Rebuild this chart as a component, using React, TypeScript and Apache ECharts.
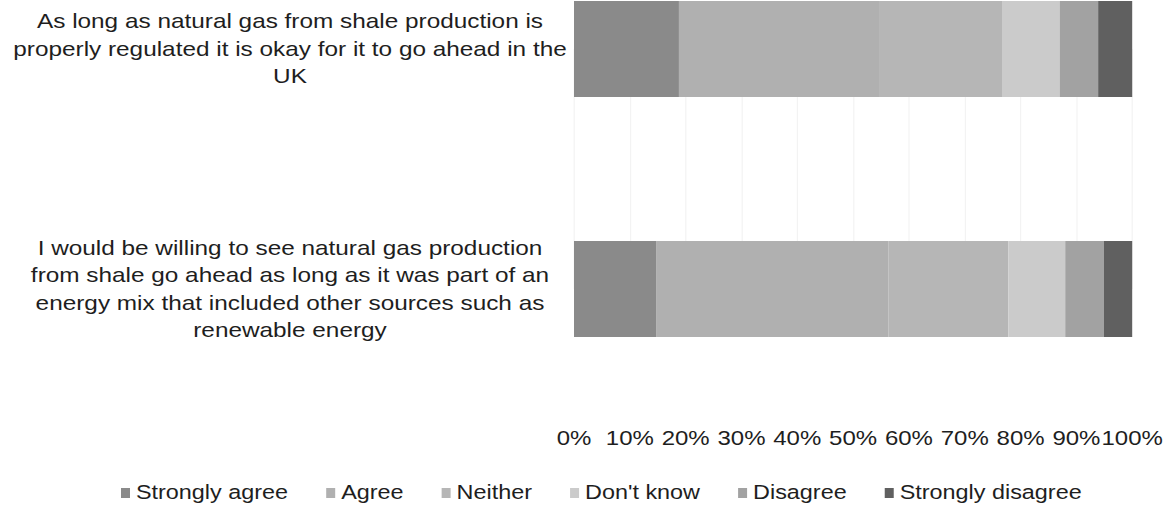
import React, { useEffect, useRef } from "react";
import * as echarts from "echarts";

const categories = [
  "As long as natural gas from shale production is\nproperly regulated it is okay for it to go ahead in the\nUK",
  "I would be willing to see natural gas production\nfrom shale go ahead as long as it was part of an\nenergy mix that included other sources such as\nrenewable energy",
];
const seriesNames = ["Strongly agree", "Agree", "Neither", "Don't know", "Disagree", "Strongly disagree"];
const stronglyAgree = [18.8, 14.7];
const agree = [36.0, 41.6];
const neither = [22.0, 21.5];
const dontKnow = [10.2, 10.2];
const disagree = [6.9, 6.9];
const stronglyDisagree = [6.1, 5.1];
const colors = ["#8a8a8a", "#b0b0b0", "#b6b6b6", "#cbcbcb", "#a2a2a2", "#606060"];

// the reference text is horizontally stretched; render narrower and stretch
const SX = 1.2;
const W = 1171;
const H = 506;

export default function App() {
  const ref = useRef<HTMLDivElement>(null);
  useEffect(() => {
    if (!ref.current) return;
    const chart = echarts.init(ref.current, null, { renderer: "svg" });
    const values = [stronglyAgree, agree, neither, dontKnow, disagree, stronglyDisagree];
    const font = "'Liberation Sans', Arial, sans-serif";
    chart.setOption({
      animation: false,
      backgroundColor: "#ffffff",
      textStyle: { fontFamily: font },
      grid: { left: 574 / SX, right: 39 / SX, top: 49, bottom: H - 289, containLabel: false },
      legend: {
        left: 115 / SX,
        top: 478,
        itemWidth: 9 / SX,
        itemHeight: 10,
        itemGap: 38 / SX,
        icon: "rect",
        textStyle: { fontSize: 19.5, color: "#1e1e1e", fontFamily: font },
        data: seriesNames,
      },
      xAxis: {
        type: "value",
        min: 0,
        max: 100,
        interval: 10,
        axisLine: { show: false },
        axisTick: { show: false },
        splitLine: { show: true, lineStyle: { color: "#f3f3f3", width: 1 } },
        axisLabel: {
          formatter: "{value}%",
          fontSize: 20,
          color: "#1e1e1e",
          margin: 139,
          fontFamily: font,
        },
      },
      yAxis: {
        type: "category",
        inverse: true,
        boundaryGap: false,
        data: categories,
        axisLine: { show: false },
        axisTick: { show: false },
        splitLine: { show: false },
        axisLabel: {
          align: "center",
          margin: 284 / SX,
          fontSize: 20.3,
          lineHeight: 27.5,
          color: "#1e1e1e",
          fontFamily: font,
        },
      },
      series: seriesNames.map((name, i) => ({
        name,
        type: "bar",
        stack: "total",
        barWidth: 96,
        data: values[i],
        itemStyle: { color: colors[i] },
      })),
    });
    return () => chart.dispose();
  }, []);
  return (
    <div style={{ position: "fixed", left: 0, top: 0, width: W, height: H, overflow: "hidden", background: "#fff" }}>
      <div
        ref={ref}
        style={{
          width: W / SX,
          height: H,
          transform: `scaleX(${SX})`,
          transformOrigin: "0 0",
        }}
      />
    </div>
  );
}
